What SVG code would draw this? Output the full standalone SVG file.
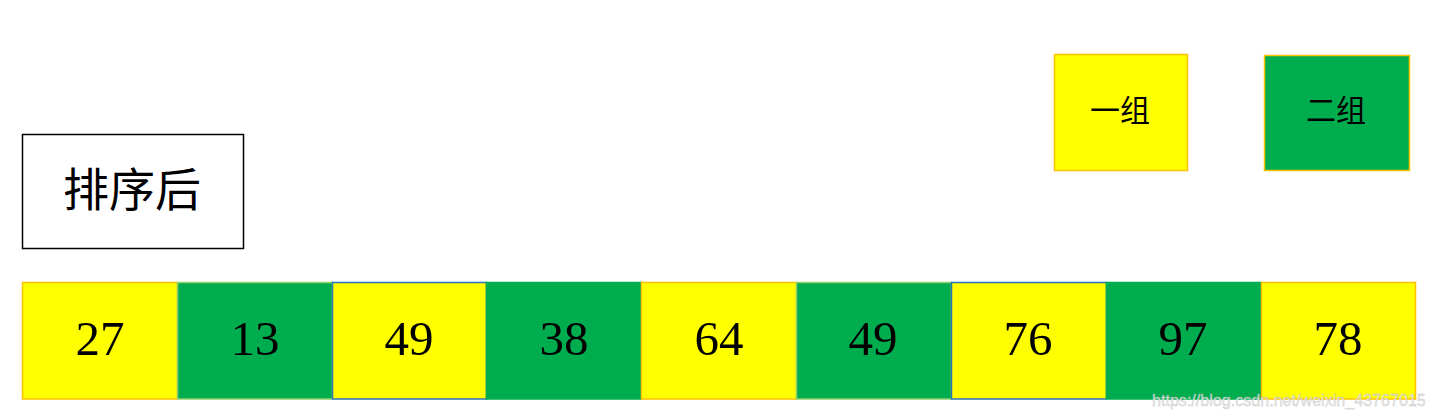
<svg xmlns="http://www.w3.org/2000/svg" width="1435" height="418" viewBox="0 0 1435 418">
<style>
.y{fill:#FFFF00}
.g{fill:#00AD4E}
.num{font-family:"Liberation Serif","DejaVu Serif",serif;font-size:49px;text-anchor:middle;fill:#000}
.cjk{font-family:"Liberation Serif","Noto Sans CJK SC",serif;text-anchor:middle;fill:#000}
</style>
<rect width="1435" height="418" fill="#fff"/>
<g id="title">
<rect x="22.5" y="134.5" width="221" height="114" fill="#fff" stroke="#000" stroke-width="1.5"/>
<text class="cjk" x="132" y="206" font-size="46">排序后</text>
</g>
<g id="legend1">
<rect x="1054.5" y="54.5" width="133" height="116" class="y" stroke="#FFC000" stroke-width="1.5"/>
<text class="cjk" x="1120" y="121" font-size="30">一组</text>
</g>
<g id="legend2">
<rect x="1264.5" y="55.5" width="145" height="115" class="g" stroke="#FFC000" stroke-width="1.5"/>
<text class="cjk" x="1336" y="121" font-size="30">二组</text>
</g>
<g id="cells">
<g id="c1"><rect x="22.5" y="282.5" width="155" height="116.5" class="y" stroke="#FFC000" stroke-width="1.5"/><text class="num" x="100" y="355">27</text></g>
<g id="c2"><rect x="177.5" y="282.5" width="155" height="116.5" class="g" stroke="#8FD26A" stroke-width="1.5"/><text class="num" x="255" y="355">13</text></g>
<g id="c3"><rect x="332.5" y="282.5" width="154" height="116.5" class="y" stroke="#2E75B6" stroke-width="1.5"/><text class="num" x="409" y="355">49</text></g>
<g id="c4"><rect x="486.5" y="282.5" width="155" height="116.5" class="g" stroke="#00AD4E" stroke-width="1.5"/><text class="num" x="564" y="355">38</text></g>
<g id="c5"><rect x="641.5" y="282.5" width="155" height="116.5" class="y" stroke="#FFC000" stroke-width="1.5"/><text class="num" x="719" y="355">64</text></g>
<g id="c6"><rect x="796.5" y="282.5" width="155" height="116.5" class="g" stroke="#8FD26A" stroke-width="1.5"/><text class="num" x="873" y="355">49</text></g>
<g id="c7"><rect x="951.5" y="282.5" width="155" height="116.5" class="y" stroke="#2E75B6" stroke-width="1.5"/><text class="num" x="1028" y="355">76</text></g>
<g id="c8"><rect x="1106.5" y="282.5" width="155" height="116.5" class="g" stroke="#00AD4E" stroke-width="1.5"/><text class="num" x="1183" y="355">97</text></g>
<g id="c9"><rect x="1261.5" y="282.5" width="154" height="116.5" class="y" stroke="#FFC000" stroke-width="1.5"/><text class="num" x="1338" y="355">78</text></g>
</g>
<g id="connectors"></g>
<text x="1152" y="406" font-family="Liberation Sans,Arial,sans-serif" font-size="16.1" fill="#e6e6e6" opacity="0.9" stroke="#bbb" stroke-width="0.3">https://blog.csdn.net/weixin_43767015</text>
</svg>
